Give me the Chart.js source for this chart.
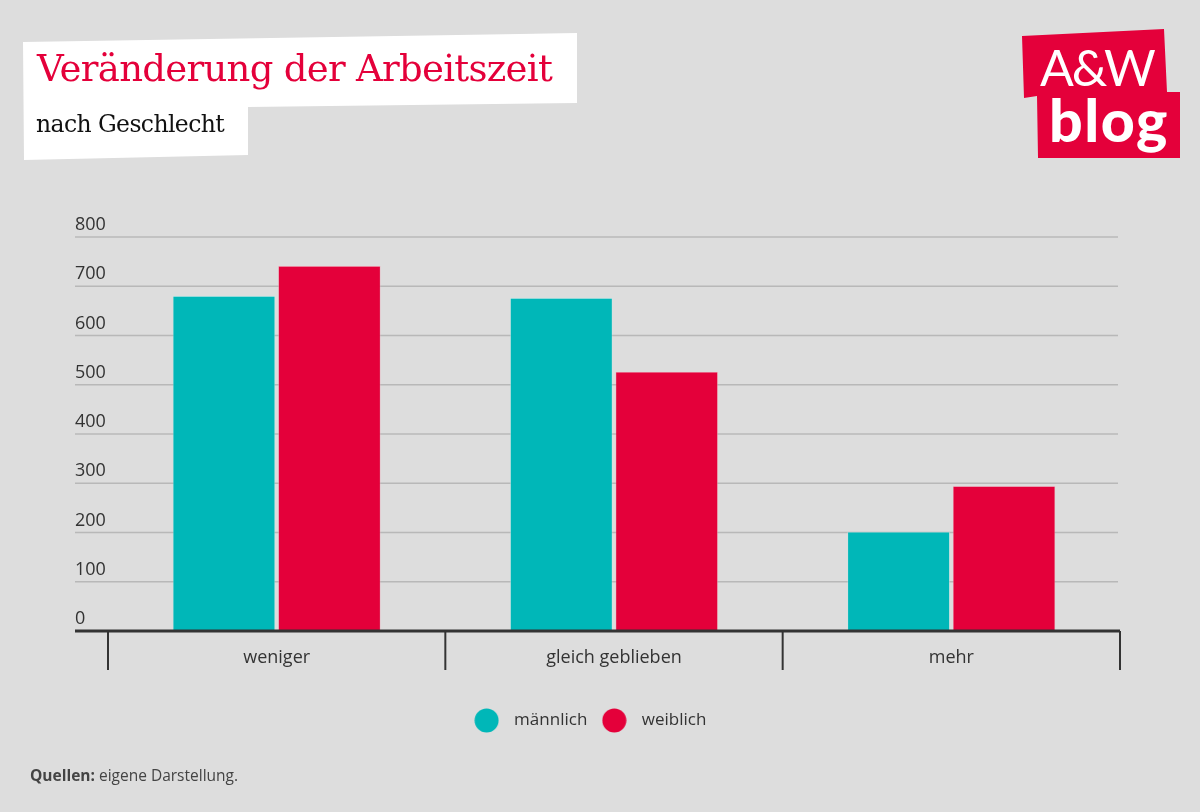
<!DOCTYPE html>
<html>
<head>
<meta charset="utf-8">
<script src="https://cdn.jsdelivr.net/npm/chart.js@4.4.1/dist/chart.umd.min.js"></script>
<style>
  html, body { margin: 0; padding: 0; background: #dddddd; }
  body { width: 1200px; height: 812px; position: relative; overflow: hidden; font-family: "Open Sans", sans-serif; }
  #titlebox { position: absolute; left: 0; top: 0; width: 600px; height: 170px; background: #ffffff;
    clip-path: polygon(23px 42px, 577px 33px, 577px 103px, 248px 107px, 248px 155px, 24px 160px); }
  #title { position: absolute; left: 37px; top: 47px; font-family: "DejaVu Serif", serif; font-size: 37px; color: #e4003a; letter-spacing: -0.7px; white-space: nowrap; }
  #subtitle { position: absolute; left: 36px; top: 110px; font-family: "DejaVu Serif", serif; font-size: 23.5px; color: #111; letter-spacing: -0.6px; white-space: nowrap; }
  .logo1 { position: absolute; left: 0; top: 0; width: 1200px; height: 170px; background: #e4003a;
    clip-path: polygon(1022px 36px, 1164px 29px, 1167px 92px, 1180px 92px, 1180px 158px, 1038px 158px, 1037px 96px, 1024px 98px); }
  #aw { position: absolute; left: 1040px; top: 37px; font-family: "Lato", sans-serif; font-weight: 400; font-size: 50px; color: #fff; letter-spacing: -2px; }
  #blog { position: absolute; left: 1049px; top: 84px; font-family: "Lato", sans-serif; font-weight: 900; font-size: 59px; color: #fff; letter-spacing: 1.5px; }
  #chartwrap { position: absolute; left: 0; top: 0; width: 1200px; height: 812px; }
  #source { position: absolute; left: 30px; top: 764px; font-size: 15.5px; color: #444; font-family: "Open Sans", sans-serif; }
  #source b { font-weight: 700; }
</style>
</head>
<body>
<div id="chartwrap"><canvas id="c" width="1200" height="812"></canvas></div>
<div id="titlebox"></div>
<div id="title">Veränderung der Arbeitszeit</div>
<div id="subtitle">nach Geschlecht</div>
<div class="logo1"></div>
<div id="aw">A&amp;W</div>
<div id="blog">blog</div>
<div id="source"><b>Quellen:</b> eigene Darstellung.</div>
<script>
const categories = ["weniger", "gleich geblieben", "mehr"];
const maleValues = [680, 676, 201];
const femaleValues = [741, 526, 294];
const seriesNames = ["männlich", "weiblich"];
const seriesColors = ["#00b7b8", "#e4003a"];
const yTicks = [0, 100, 200, 300, 400, 500, 600, 700, 800];

function dot(color) {
  const c = document.createElement('canvas');
  c.width = 25; c.height = 25;
  const g = c.getContext('2d');
  g.fillStyle = color;
  g.beginPath(); g.arc(12.5, 12.5, 12, 0, Math.PI * 2); g.fill();
  return c;
}

const gridPlugin = {
  id: 'customGrid',
  beforeDatasetsDraw(chart) {
    const ctx = chart.ctx, y = chart.scales.y, area = chart.chartArea;
    ctx.save();
    ctx.strokeStyle = '#b8b8b8';
    ctx.lineWidth = 1.5;
    ctx.fillStyle = '#333333';
    ctx.font = '18px "Open Sans", sans-serif';
    ctx.textAlign = 'left';
    ctx.textBaseline = 'bottom';
    yTicks.forEach(v => {
      const py = y.getPixelForValue(v);
      if (v !== 0) {
        ctx.beginPath();
        ctx.moveTo(75, py);
        ctx.lineTo(area.right - 2, py);
        ctx.stroke();
      }
      ctx.fillText(String(v), 75, py - 3);
    });
    ctx.restore();
  },
  afterDatasetsDraw(chart) {
    const ctx = chart.ctx, x = chart.scales.x, y = chart.scales.y, area = chart.chartArea;
    const py = y.getPixelForValue(0);
    ctx.save();
    ctx.strokeStyle = '#333333';
    ctx.lineWidth = 2;
    const half = (area.right - area.left) / categories.length / 2;
    const bounds = [];
    categories.forEach((c, i) => { bounds.push(x.getPixelForValue(i) - half); });
    bounds.push(x.getPixelForValue(categories.length - 1) + half);
    bounds.forEach(bx => {
      ctx.beginPath();
      ctx.moveTo(bx, py);
      ctx.lineTo(bx, py + 39);
      ctx.stroke();
    });
    ctx.lineWidth = 3;
    ctx.beginPath();
    ctx.moveTo(75, py);
    ctx.lineTo(area.right, py);
    ctx.stroke();
    ctx.restore();
  }
};

new Chart(document.getElementById('c'), {
  type: 'bar',
  data: {
    labels: categories,
    datasets: [
      { label: seriesNames[0], data: maleValues, backgroundColor: seriesColors[0], borderColor: '#bfe9e9', borderWidth: 0.6, pointStyle: dot(seriesColors[0]) },
      { label: seriesNames[1], data: femaleValues, backgroundColor: seriesColors[1], borderColor: '#f3a0b3', borderWidth: 0.6, pointStyle: dot(seriesColors[1]) }
    ]
  },
  options: {
    responsive: false,
    animation: false,
    devicePixelRatio: 1,
    layout: { padding: { left: 32, right: 58, top: 237, bottom: 73 } },
    datasets: { bar: { categoryPercentage: 0.625, barPercentage: 0.97 } },
    scales: {
      x: {
        grid: { display: false },
        border: { display: false },
        ticks: { color: '#333333', font: { family: '"Open Sans", sans-serif', size: 18 }, padding: 8 },
        afterFit(scale) { scale.height = 73; }
      },
      y: {
        display: true, min: 0, max: 800,
        grid: { display: false }, border: { display: false }, ticks: { display: false },
        afterFit(scale) { scale.width = 76; }
      },
      y2: {
        type: 'linear', position: 'right', display: true, min: 0, max: 1,
        grid: { display: false }, border: { display: false }, ticks: { display: false },
        afterFit(scale) { scale.width = 22; }
      }
    },
    plugins: {
      legend: {
        position: 'bottom',
        labels: { usePointStyle: true, pointStyleWidth: 38, color: '#333333', font: { family: '"Open Sans", sans-serif', size: 17 }, padding: 8 }
      },
      tooltip: { enabled: false }
    }
  },
  plugins: [gridPlugin]
});
</script>
</body>
</html>
